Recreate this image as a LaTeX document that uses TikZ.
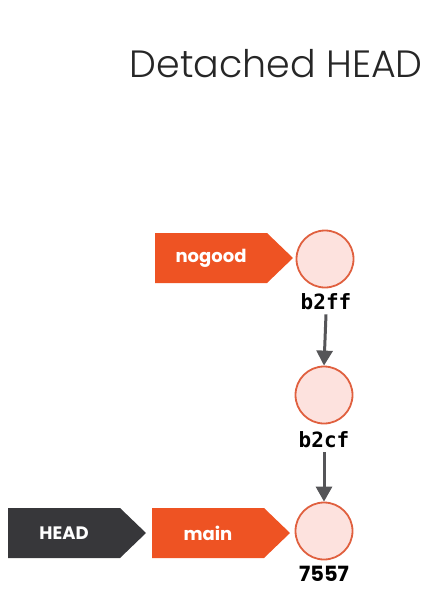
\documentclass[tikz,border=0pt]{standalone}
\usepackage{fontspec}
\setmainfont{Poppins}
\newfontfamily\titlefont{Poppins}[UprightFont=* Light]
\newfontfamily\monofont{DejaVu Sans Mono}
\usetikzlibrary{arrows.meta}
\definecolor{tagorange}{HTML}{EE5323}
\definecolor{tagdark}{HTML}{37373A}
\definecolor{commitfill}{HTML}{FDE2DE}
\definecolor{commitline}{HTML}{E0603F}
\definecolor{arrowgray}{HTML}{555558}
\tikzset{
  tagtext/.style={text=white, inner sep=0pt, font=\bfseries\fontsize{18}{20}\selectfont},
  commit/.style={circle, draw=commitline, line width=1.8pt, fill=commitfill, minimum size=57pt, inner sep=0pt},
  hashlbl/.style={font=\monofont\bfseries\fontsize{21}{24}\selectfont, text=black, inner sep=0pt},
  numlbl/.style={font=\bfseries\fontsize{21}{24}\selectfont, text=black, inner sep=0pt},
  parent/.style={arrowgray, line width=3pt, -{Triangle[length=15pt,width=16pt]}}
}
\newcommand{\tagshape}[2]{% #1 colour, #2 node name (centre of body)
  \fill[#1] (#2.center) ++(-56,-25) -- ++(112,0) -- ++(26,25) -- ++(-26,25) -- ++(-112,0) -- cycle;}
\begin{document}
\begin{tikzpicture}[x=1pt,y=-1pt]
\useasboundingbox (0,0) rectangle (441,600);
\node[anchor=base east, inner sep=0pt, font=\titlefont\fontsize{38}{44}\selectfont, text=black!85] (title) at (423,77) {Detached HEAD};

\node[commit] (c1) at (325,259) {};
\node[commit] (c2) at (324,395) {};
\node[commit] (c3) at (324,531) {};

\node[hashlbl] (l1) at (326,302) {b2ff};
\node[hashlbl] (l2) at (324,440) {b2cf};
\node[numlbl] (l3) at (324,574) {7557};

\draw[parent] (l1.south) ++(0,4) coordinate (a1) -- (c2.north);
\draw[parent] (l2.south) ++(0,4) coordinate (a2) -- (c3.north);

\coordinate (nogoodpos) at (211,258);
\coordinate (headpos) at (64,533);
\coordinate (mainpos) at (208,533);
\tagshape{tagorange}{nogoodpos}
\tagshape{tagdark}{headpos}
\tagshape{tagorange}{mainpos}
\node[tagtext] (nogood) at (nogoodpos) {nogood};
\node[tagtext] (head) at (headpos) {HEAD};
\node[tagtext] (main) at (mainpos) {main};
\end{tikzpicture}
\end{document}
